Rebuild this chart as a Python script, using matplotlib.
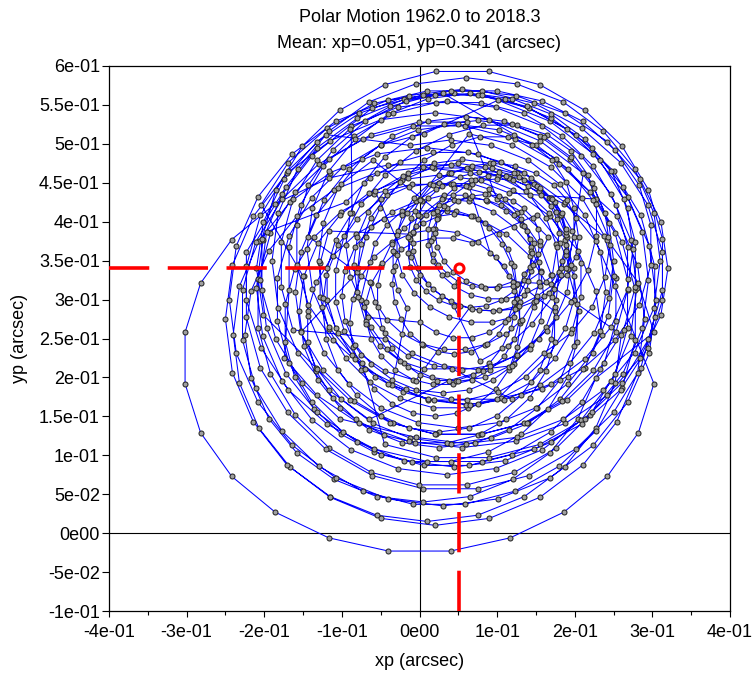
import numpy as np
import matplotlib
matplotlib.use("Agg")
import matplotlib.pyplot as plt

# Pole position in milliarcseconds, sampled every 0.05 yr (one row per wobble loop)
xp_1962_1971 = [
    235, 227, 204, 168, 120, 65, 5, -55, -110, -158, -194, -217, -225, -217, -194, -158, -110, -55, 5, 65, 120, 168, 204, 227,
    302, 282, 242, 186, 117, 40, -40, -117, -186, -242, -282, -302, -302, -282, -242, -186, -117, -40, 40, 117, 186, 242, 282, 302,
    252, 227, 187, 135, 75, 10, -55, -115, -167, -207, -232, -240, -232, -207, -167, -115, -55, 10, 75, 135, 187, 227, 252, 260,
    163, 142, 112, 76, 36, -6, -46, -82, -112, -133, -144, -144, -133, -112, -82, -46, -6, 36, 76, 112, 142, 163, 174, 174,
    115, 98, 75, 48, 20, -8, -35, -58, -75, -86, -90, -86, -75, -58, -35, -8, 20, 48, 75, 98, 115, 126, 130, 126,
    166, 131, 88, 40, -10, -58, -101, -136, -161, -173, -173, -161, -136, -101, -58, -10, 40, 88, 131, 166, 191, 203, 203, 191,
    211, 155, 90, 20, -50, -115, -171, -214, -241, -250, -241, -214, -171, -115, -50, 20, 90, 155, 211, 254, 281, 290, 281, 254,
    180, 123, 58, -8, -73, -130, -177, -211, -228, -228, -211, -177, -130, -73, -8, 58, 123, 180, 227, 261, 278, 278, 261, 227,
]
yp_1962_1971 = [
    255, 311, 363, 407, 441, 463, 470, 463, 441, 407, 363, 311, 255, 199, 147, 103, 69, 47, 40, 47, 69, 103, 147, 199,
    258, 321, 377, 423, 456, 473, 473, 456, 423, 377, 321, 258, 192, 129, 73, 27, -6, -23, -23, -6, 27, 73, 129, 192,
    317, 375, 425, 463, 487, 495, 487, 463, 425, 375, 317, 255, 193, 135, 85, 47, 23, 15, 23, 47, 85, 135, 193, 255,
    322, 356, 384, 404, 414, 414, 404, 384, 356, 322, 285, 245, 208, 174, 146, 126, 116, 116, 126, 146, 174, 208, 245, 285,
    330, 355, 374, 386, 390, 386, 374, 355, 330, 301, 270, 239, 210, 185, 166, 154, 150, 154, 166, 185, 210, 239, 270, 301,
    380, 413, 436, 448, 448, 436, 413, 380, 339, 294, 246, 201, 160, 127, 104, 92, 92, 104, 127, 160, 201, 246, 294, 339,
    462, 504, 531, 540, 531, 504, 462, 407, 344, 275, 206, 143, 88, 46, 19, 10, 19, 46, 88, 143, 206, 275, 344, 407,
    474, 506, 523, 523, 506, 474, 429, 374, 312, 248, 186, 131, 86, 54, 37, 37, 54, 86, 131, 186, 248, 312, 374, 429,
]

xp_1971_1981 = [
    115, 72, 25, -22, -65, -102, -131, -149, -155, -149, -131, -102, -65, -22, 25, 72, 115, 152, 181, 199, 205, 199, 181, 152,
    68, 43, 17, -8, -31, -49, -62, -69, -69, -62, -49, -31, -8, 17, 43, 68, 91, 109, 122, 129, 129, 122, 109, 91,
    64, 25, -14, -50, -81, -105, -120, -125, -120, -105, -81, -50, -14, 25, 64, 100, 131, 155, 170, 175, 170, 155, 131, 100,
    61, -1, -62, -116, -160, -192, -208, -208, -192, -160, -116, -62, -1, 61, 122, 176, 220, 252, 268, 268, 252, 220, 176, 122,
    30, -41, -108, -164, -208, -236, -245, -236, -208, -164, -108, -41, 30, 101, 168, 224, 268, 296, 305, 296, 268, 224, 168, 101,
    6, -49, -99, -139, -168, -183, -183, -168, -139, -99, -49, 6, 64, 119, 169, 209, 238, 253, 253, 238, 209, 169, 119, 64,
    -4, -35, -62, -83, -96, -100, -96, -83, -62, -35, -4, 30, 64, 95, 122, 143, 156, 160, 156, 143, 122, 95, 64, 30,
    1, -20, -36, -48, -54, -54, -48, -36, -20, 1, 23, 47, 69, 90, 106, 118, 124, 124, 118, 106, 90, 69, 47, 23,
]
yp_1971_1981 = [
    437, 454, 460, 454, 437, 409, 373, 330, 285, 240, 197, 161, 133, 116, 110, 116, 133, 161, 197, 240, 285, 330, 373, 409,
    373, 379, 379, 373, 360, 343, 321, 297, 273, 249, 227, 210, 197, 191, 191, 197, 210, 227, 249, 273, 297, 321, 343, 360,
    445, 450, 445, 429, 403, 370, 331, 290, 249, 210, 177, 151, 135, 130, 135, 151, 177, 210, 249, 290, 331, 370, 403, 429,
    528, 528, 512, 481, 438, 385, 326, 264, 205, 152, 109, 78, 62, 62, 78, 109, 152, 205, 264, 326, 385, 438, 481, 512,
    565, 556, 529, 487, 432, 369, 300, 231, 168, 113, 71, 44, 35, 44, 71, 113, 168, 231, 300, 369, 432, 487, 529, 556,
    513, 499, 470, 431, 382, 328, 272, 218, 169, 130, 101, 87, 87, 101, 130, 169, 218, 272, 328, 382, 431, 470, 499, 513,
    426, 413, 393, 368, 337, 305, 273, 242, 217, 197, 184, 180, 184, 197, 217, 242, 273, 305, 337, 368, 393, 413, 426, 430,
    407, 392, 372, 347, 319, 291, 263, 238, 218, 203, 196, 196, 203, 218, 238, 263, 291, 319, 347, 372, 392, 407, 414, 414,
]

xp_1981_1990 = [
    -60, -101, -133, -153, -160, -153, -133, -101, -60, -12, 40, 92, 140, 181, 213, 233, 240, 233, 213, 181, 140, 92, 40, -12,
    -121, -170, -205, -223, -223, -205, -170, -121, -61, 5, 75, 141, 201, 250, 285, 303, 303, 285, 250, 201, 141, 75, 5, -61,
    -138, -177, -202, -210, -202, -177, -138, -88, -28, 35, 98, 158, 208, 247, 272, 280, 272, 247, 208, 158, 98, 35, -28, -88,
    -87, -108, -119, -119, -108, -87, -57, -21, 19, 61, 101, 137, 167, 188, 199, 199, 188, 167, 137, 101, 61, 19, -21, -57,
    -24, -32, -35, -32, -24, -12, 5, 24, 45, 66, 85, 102, 114, 122, 125, 122, 114, 102, 85, 66, 45, 24, 5, -12,
    -117, -128, -128, -117, -95, -64, -25, 18, 62, 105, 144, 175, 197, 208, 208, 197, 175, 144, 105, 62, 18, -25, -64, -95,
    -197, -205, -197, -172, -132, -80, -20, 45, 110, 170, 222, 262, 287, 295, 287, 262, 222, 170, 110, 45, -20, -80, -132, -172,
    -223, -223, -204, -169, -119, -58, 10, 80, 148, 209, 259, 294, 313, 313, 294, 259, 209, 148, 80, 10, -58, -119, -169, -204,
]
yp_1981_1990 = [
    479, 448, 408, 361, 310, 259, 212, 172, 141, 122, 115, 122, 141, 172, 212, 259, 310, 361, 408, 448, 479, 498, 505, 498,
    512, 465, 408, 343, 277, 212, 155, 108, 74, 57, 57, 74, 108, 155, 212, 277, 343, 408, 465, 512, 546, 563, 563, 546,
    485, 435, 377, 315, 253, 195, 145, 107, 83, 75, 83, 107, 145, 195, 253, 315, 377, 435, 485, 523, 547, 555, 547, 523,
    411, 377, 340, 300, 263, 229, 201, 181, 171, 171, 181, 201, 229, 263, 300, 340, 377, 411, 439, 459, 469, 469, 459, 439,
    365, 343, 320, 297, 275, 256, 242, 233, 230, 233, 242, 256, 275, 297, 320, 343, 365, 384, 398, 407, 410, 407, 398, 384,
    388, 347, 303, 262, 225, 194, 173, 161, 161, 173, 194, 225, 262, 303, 347, 388, 425, 456, 477, 489, 489, 477, 456, 425,
    387, 325, 263, 205, 155, 117, 93, 85, 93, 117, 155, 205, 263, 325, 387, 445, 495, 533, 557, 565, 557, 533, 495, 445,
    361, 299, 238, 184, 140, 108, 92, 92, 108, 140, 184, 238, 299, 361, 422, 476, 520, 552, 568, 568, 552, 520, 476, 422,
]

xp_1990_2000 = [
    -150, -143, -123, -91, -50, -2, 50, 102, 150, 191, 223, 243, 250, 243, 223, 191, 150, 102, 50, -2, -50, -91, -123, -143,
    -64, -57, -42, -22, 3, 31, 59, 87, 112, 132, 147, 154, 154, 147, 132, 112, 87, 59, 31, 3, -22, -42, -57, -64,
    -76, -63, -42, -15, 16, 50, 84, 115, 142, 163, 176, 180, 176, 163, 142, 115, 84, 50, 16, -15, -42, -63, -76, -80,
    -153, -124, -84, -34, 21, 79, 134, 184, 224, 253, 268, 268, 253, 224, 184, 134, 79, 21, -34, -84, -124, -153, -168, -168,
    -174, -132, -78, -14, 55, 124, 188, 242, 284, 311, 320, 311, 284, 242, 188, 124, 55, -14, -78, -132, -174, -201, -210, -201,
    -132, -90, -38, 20, 80, 138, 190, 232, 263, 278, 278, 263, 232, 190, 138, 80, 20, -38, -90, -132, -163, -178, -178, -163,
    -44, -15, 19, 55, 91, 125, 154, 176, 190, 195, 190, 176, 154, 125, 91, 55, 19, -15, -44, -66, -80, -85, -80, -66,
    0, 21, 43, 67, 89, 110, 126, 138, 144, 144, 138, 126, 110, 89, 67, 43, 21, 0, -16, -28, -34, -34, -28, -16,
]
yp_1990_2000 = [
    330, 279, 232, 192, 161, 142, 135, 142, 161, 192, 232, 279, 330, 381, 428, 468, 499, 518, 525, 518, 499, 468, 428, 381,
    322, 297, 274, 256, 243, 236, 236, 243, 256, 274, 297, 322, 348, 373, 396, 414, 427, 434, 434, 427, 414, 396, 373, 348,
    299, 265, 236, 214, 200, 195, 200, 214, 236, 265, 299, 335, 371, 405, 434, 456, 470, 475, 470, 456, 434, 405, 371, 335,
    258, 209, 170, 141, 127, 127, 141, 170, 209, 258, 312, 368, 422, 471, 510, 539, 553, 553, 539, 510, 471, 422, 368, 312,
    225, 177, 141, 118, 110, 118, 141, 177, 225, 280, 340, 400, 455, 503, 539, 562, 570, 562, 539, 503, 455, 400, 340, 280,
    211, 171, 142, 127, 127, 142, 171, 211, 261, 316, 374, 429, 479, 519, 548, 563, 563, 548, 519, 479, 429, 374, 316, 261,
    250, 228, 215, 210, 215, 228, 250, 277, 310, 345, 380, 413, 440, 462, 475, 480, 475, 462, 440, 413, 380, 345, 310, 277,
    271, 258, 251, 251, 258, 271, 289, 312, 337, 363, 388, 411, 429, 442, 449, 449, 442, 429, 411, 388, 363, 337, 312, 289,
]

xp_2000_2009 = [
    -35, 11, 60, 109, 155, 194, 225, 244, 250, 244, 225, 194, 155, 109, 60, 11, -35, -74, -105, -124, -130, -124, -105, -74,
    -45, 21, 89, 155, 213, 261, 295, 313, 313, 295, 261, 213, 155, 89, 21, -45, -103, -151, -185, -203, -203, -185, -151, -103,
    -5, 60, 125, 185, 237, 277, 302, 310, 302, 277, 237, 185, 125, 60, -5, -65, -117, -157, -182, -190, -182, -157, -117, -65,
    38, 82, 125, 164, 195, 217, 228, 228, 217, 195, 164, 125, 82, 38, -5, -44, -75, -97, -108, -108, -97, -75, -44, -5,
    65, 86, 105, 122, 134, 142, 145, 142, 134, 122, 105, 86, 65, 44, 25, 8, -4, -12, -15, -12, -4, 8, 25, 44,
    78, 114, 145, 171, 189, 199, 199, 189, 171, 145, 114, 78, 42, 6, -25, -51, -69, -79, -79, -69, -51, -25, 6, 42,
    119, 170, 213, 247, 268, 275, 268, 247, 213, 170, 119, 65, 11, -40, -83, -117, -138, -145, -138, -117, -83, -40, 11, 65,
    158, 210, 252, 283, 298, 298, 283, 252, 210, 158, 100, 40, -18, -70, -112, -143, -158, -158, -143, -112, -70, -18, 40, 100,
]
yp_2000_2009 = [
    190, 171, 165, 171, 190, 219, 257, 302, 350, 398, 443, 481, 510, 529, 535, 529, 510, 481, 443, 398, 350, 302, 257, 219,
    114, 97, 97, 114, 147, 193, 249, 312, 378, 441, 497, 543, 576, 593, 593, 576, 543, 497, 441, 378, 312, 249, 193, 147,
    123, 115, 123, 146, 184, 232, 289, 350, 411, 468, 516, 554, 577, 585, 577, 554, 516, 468, 411, 350, 289, 232, 184, 146,
    196, 208, 229, 260, 297, 338, 382, 423, 460, 491, 512, 524, 524, 512, 491, 460, 423, 382, 338, 297, 260, 229, 208, 196,
    290, 292, 299, 311, 325, 342, 360, 378, 395, 409, 421, 428, 430, 428, 421, 409, 395, 378, 360, 342, 325, 311, 299, 292,
    221, 241, 269, 303, 340, 380, 417, 451, 479, 499, 509, 509, 499, 479, 451, 417, 380, 340, 303, 269, 241, 221, 211, 211,
    172, 192, 224, 265, 313, 365, 417, 465, 506, 538, 558, 565, 558, 538, 506, 465, 417, 365, 313, 265, 224, 192, 172, 165,
    185, 211, 248, 293, 344, 396, 447, 492, 529, 555, 568, 568, 555, 529, 492, 447, 396, 344, 293, 248, 211, 185, 172, 172,
]

xp_2010_2018 = [
    160, 195, 222, 239, 245, 239, 222, 195, 160, 119, 75, 31, -10, -45, -72, -89, -95, -89, -72, -45, -10, 31, 75, 119,
    147, 167, 182, 189, 189, 182, 167, 147, 122, 94, 66, 38, 13, -7, -22, -29, -29, -22, -7, 13, 38, 66, 94, 122,
    134, 146, 153, 155, 153, 146, 134, 120, 103, 85, 67, 50, 36, 24, 17, 15, 17, 24, 36, 50, 67, 85, 103, 120,
    169, 182, 189, 189, 182, 169, 151, 128, 103, 77, 52, 29, 11, -2, -9, -9, -2, 11, 29, 52, 77, 103, 128, 151,
    190, 201, 205, 201, 190, 173, 150, 123, 95, 67, 40, 17, 0, -11, -15, -11, 0, 17, 40, 67, 95, 123, 150, 173,
    183, 189, 189, 183, 171, 155, 134, 112, 88, 66, 45, 29, 17, 11, 11, 17, 29, 45, 66, 88, 112, 134, 155, 171,
    177, 180, 177, 169, 157, 140, 121, 100, 79, 60, 43, 31, 23, 20, 23, 31, 43, 60, 79, 100, 121, 140, 157,
]
yp_2010_2018 = [
    231, 257, 290, 329, 370, 411, 450, 483, 509, 525, 530, 525, 509, 483, 450, 411, 370, 329, 290, 257, 231, 215, 210, 215,
    291, 309, 332, 357, 383, 408, 431, 449, 462, 469, 469, 462, 449, 431, 408, 383, 357, 332, 309, 291, 278, 271, 271, 278,
    333, 345, 359, 375, 391, 405, 417, 427, 433, 435, 433, 427, 417, 405, 391, 375, 359, 345, 333, 323, 317, 315, 317, 323,
    320, 341, 363, 387, 409, 430, 446, 458, 464, 464, 458, 446, 430, 409, 387, 363, 341, 320, 304, 292, 286, 286, 292, 304,
    332, 355, 380, 405, 428, 447, 462, 472, 475, 472, 462, 447, 428, 405, 380, 355, 332, 313, 298, 288, 285, 288, 298, 313,
    349, 370, 390, 411, 429, 443, 454, 459, 459, 454, 443, 429, 411, 390, 370, 349, 331, 317, 306, 301, 301, 306, 317, 331,
    367, 385, 403, 420, 434, 446, 453, 455, 453, 446, 434, 420, 403, 385, 367, 350, 336, 324, 317, 315, 317, 324, 336,
]

# Mean pole position (arcsec)
mean_xp = 0.051
mean_yp = 0.341

x_ticks = [-0.4, -0.3, -0.2, -0.1, 0.0, 0.1, 0.2, 0.3, 0.4]
x_tick_labels = ["-4e-01", "-3e-01", "-2e-01", "-1e-01", "0e00", "1e-01", "2e-01", "3e-01", "4e-01"]
x_minor_ticks = [-0.35, -0.25, -0.15, -0.05, 0.05, 0.15, 0.25, 0.35]
y_ticks = [-0.1, -0.05, 0.0, 0.05, 0.1, 0.15, 0.2, 0.25, 0.3, 0.35, 0.4, 0.45, 0.5, 0.55, 0.6]
y_tick_labels = ["-1e-01", "-5e-02", "0e00", "5e-02", "1e-01", "1.5e-01", "2e-01", "2.5e-01",
                 "3e-01", "3.5e-01", "4e-01", "4.5e-01", "5e-01", "5.5e-01", "6e-01"]

xp = np.array(xp_1962_1971 + xp_1971_1981 + xp_1981_1990 + xp_1990_2000 + xp_2000_2009 + xp_2010_2018) / 1000.0
yp = np.array(yp_1962_1971 + yp_1971_1981 + yp_1981_1990 + yp_1990_2000 + yp_2000_2009 + yp_2010_2018) / 1000.0
assert len(xp) == len(yp)

plt.rcParams["font.family"] = ["Liberation Sans", "DejaVu Sans"]
plt.rcParams["lines.scale_dashes"] = False
FS = 13

W, H = 753, 675
fig = plt.figure(figsize=(W / 100, H / 100), dpi=100)
L, R, T, B = 109, 730, 66, 611
ax = fig.add_axes([L / W, 1 - B / H, (R - L) / W, (B - T) / H])
ax.set_xlim(-0.4, 0.4)
ax.set_ylim(-0.1, 0.6)

# zero axes through the origin
ax.axvline(0.0, color="black", lw=0.8, zorder=1)
ax.axhline(0.0, color="black", lw=0.8, zorder=1)

# pole path
ax.plot(xp, yp, color="#0000ff", lw=0.75, marker="o", ms=3.6,
        mfc="#a0a0a0", mec="#262626", mew=0.75, zorder=2)

# mean pole cross-hair
ax.plot([-0.4, mean_xp], [mean_yp, mean_yp], color="#ff0000", lw=2.6,
        dashes=(29.0, 13.3), zorder=3)
ax.plot([mean_xp, mean_xp], [-0.1, mean_yp], color="#ff0000", lw=2.6,
        dashes=(29.0, 13.3), zorder=3)
ax.plot([mean_xp], [mean_yp], marker="o", ms=6.5, mfc="white", mec="#ff0000",
        mew=2.2, zorder=4, clip_on=False)

ax.set_xticks(x_ticks)
ax.set_xticklabels(x_tick_labels)
ax.set_xticks(x_minor_ticks, minor=True)
ax.set_yticks(y_ticks)
ax.set_yticklabels(y_tick_labels)
ax.tick_params(axis="x", which="major", direction="out", length=4.5, width=0.8,
               labelsize=FS, pad=5, top=False)
ax.tick_params(axis="x", which="minor", direction="out", length=3, width=0.8, top=False)
ax.tick_params(axis="y", which="major", direction="out", length=5, width=0.8,
               labelsize=FS, pad=1.5, right=False)
for s in ax.spines.values():
    s.set_linewidth(0.9)
    s.set_color("black")

fig.text((L + R) / 2 / W, 1 - 17 / H, "Polar Motion 1962.0 to 2018.3",
         ha="center", va="center", fontsize=FS)
fig.text((L + R) / 2 / W, 1 - 43 / H, f"Mean: xp={mean_xp:.3f}, yp={mean_yp:.3f} (arcsec)",
         ha="center", va="center", fontsize=FS)
fig.text((L + R) / 2 / W, 1 - 662 / H, "xp (arcsec)", ha="center", va="center", fontsize=FS)
fig.text(20 / W, 1 - 338 / H, "yp (arcsec)", rotation=90, ha="center", va="center", fontsize=FS)

fig.savefig("out.png", dpi=100, facecolor="white")
